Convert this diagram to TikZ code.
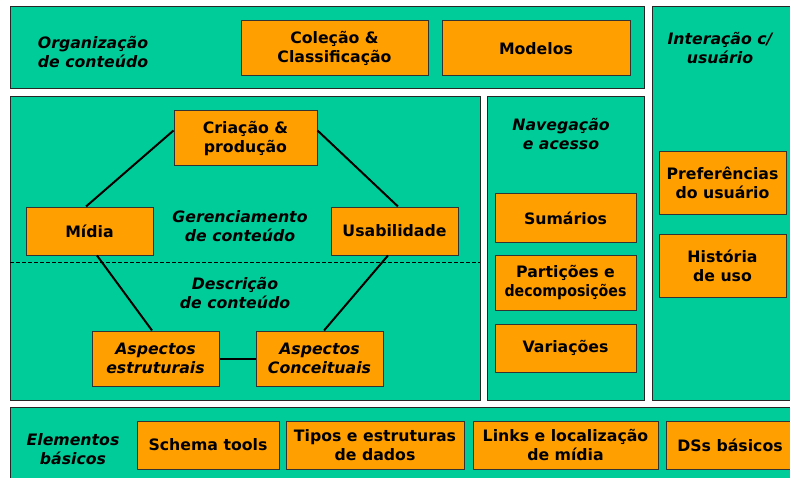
\documentclass[tikz,border=0pt]{standalone}
\usepackage{fontspec}
\setmainfont{DejaVu Sans}[BoldFont={DejaVu Sans Bold},ItalicFont={DejaVu Sans Oblique},BoldItalicFont={DejaVu Sans Bold Oblique}]
\usetikzlibrary{calc}
\definecolor{tealbg}{HTML}{00CC99}
\definecolor{orng}{HTML}{FFA000}
\begin{document}
\begin{tikzpicture}[x=0.75pt,y=-0.75pt,
  panel/.style={fill=tealbg,draw=black!85,line width=0.75pt},
  obox/.style={fill=orng,draw=black!80,line width=0.75pt,align=center,inner sep=0pt,
    font=\fontsize{11.8}{14.25}\selectfont\bfseries},
  lbl/.style={align=center,inner sep=0pt,font=\fontsize{11.8}{14.25}\selectfont\bfseries\itshape},
  conn/.style={line width=1.5pt,black}]
\useasboundingbox (0,0) rectangle (790,478);
\clip (0,0) rectangle (790,478);
\fill[white] (0,0) rectangle (790,478);

% panels
\draw[panel] (10,7) rectangle (644,89);
\draw[panel] (652,7) rectangle (800,400);
\draw[panel] (10,97) rectangle (480,400);
\draw[panel] (487,97) rectangle (644,400);
\draw[panel] (10,407) rectangle (800,490);

% top panel
\node[lbl] (org) at (93,51.5) {Organização\\de conteúdo};
\node[obox,minimum width=140.25pt,minimum height=41.25pt] (colecao) at (334.5,48.5) {Coleção \&\\Classificação};
\node[obox,minimum width=141pt,minimum height=41.25pt] (modelos) at (536,48.5) {Modelos};

% right panel
\node[lbl] (inter) at (720,47.5) {Interação c/\\usuário};
\node[obox,minimum width=95.25pt,minimum height=46.5pt] (pref) at (722.5,183) {Preferências\\do usuário};
\node[obox,minimum width=95.25pt,minimum height=47.25pt] (hist) at (722.5,265.5) {História\\de uso};

% middle-left panel
\node[obox,minimum width=107.25pt,minimum height=41.25pt] (cria) at (245.5,138.5) {Criação \&\\produção};
\node[obox,minimum width=95.25pt,minimum height=36pt] (midia) at (89.5,231) {Mídia};
\node[obox,minimum width=95.25pt,minimum height=36pt] (usab) at (394.5,231) {Usabilidade};
\node[lbl] (ger) at (240,226) {Gerenciamento\\de conteúdo};
\draw[line width=0.75pt,dash pattern=on 3pt off 1.5pt] (10,262) -- (480,262);
\node[lbl] (desc) at (235,292.5) {Descrição\\de conteúdo};
\node[obox,minimum width=95.25pt,minimum height=41.25pt,font=\fontsize{11.8}{14.25}\selectfont\bfseries\itshape] (estr) at (155.5,358.5) {Aspectos\\estruturais};
\node[obox,minimum width=95.25pt,minimum height=41.25pt,font=\fontsize{11.8}{14.25}\selectfont\bfseries\itshape] (conc) at (319.5,358.5) {Aspectos\\Conceituais};

\draw[conn] ([yshift=-15pt]cria.north west) -- ([xshift=-2.6pt]midia.north);
\draw[conn] ([yshift=-15pt]cria.north east) -- ([xshift=2.6pt]usab.north);
\draw[conn] ([xshift=5.6pt]midia.south) -- ([xshift=-2.6pt]estr.north);
\draw[conn] ([xshift=-4.9pt]usab.south) -- ([xshift=3.4pt]conc.north);
\draw[conn] (estr.east) -- (conc.west);

% navigation panel
\node[lbl] (nav) at (561,133.5) {Navegação\\e acesso};
\node[obox,minimum width=105.75pt,minimum height=36pt] (sum) at (565.5,218) {Sumários};
\node[obox,minimum width=105.75pt,minimum height=41.25pt] (part) at (565.5,282.5) {Partições e\\\scalebox{0.9}[1]{decomposições}};
\node[obox,minimum width=105.75pt,minimum height=36pt] (var) at (565.5,348) {Variações};

% bottom panel
\node[lbl] (elem) at (73,449.5) {Elementos\\básicos};
\node[obox,minimum width=106.5pt,minimum height=36pt] (schema) at (208,445) {Schema tools};
\node[obox,minimum width=133.5pt,minimum height=36pt] (tipos) at (375,445) {Tipos e estruturas\\de dados};
\node[obox,minimum width=138.75pt,minimum height=36pt] (links) at (565.5,445) {Links e localização\\de mídia};
\node[obox,minimum width=96pt,minimum height=36pt] (dss) at (730,445) {DSs básicos};
\end{tikzpicture}
\end{document}
